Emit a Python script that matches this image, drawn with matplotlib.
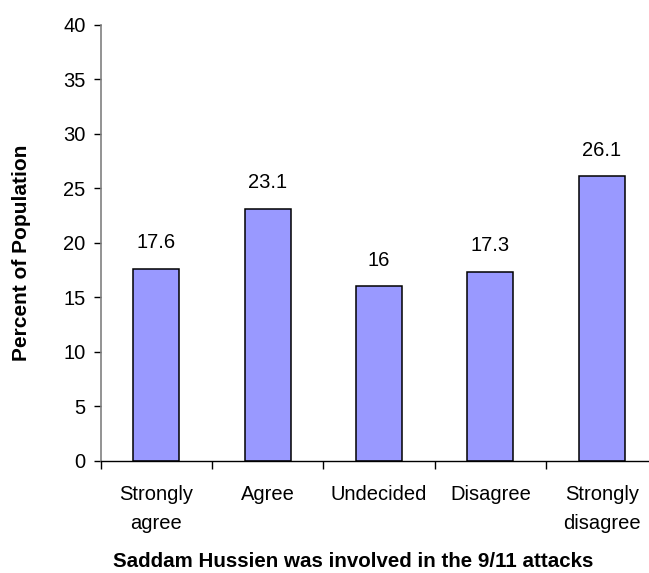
import matplotlib
matplotlib.use("Agg")
import matplotlib.pyplot as plt

categories = ["Strongly\nagree", "Agree", "Undecided", "Disagree", "Strongly\ndisagree"]
percent = [17.6, 23.1, 16, 17.3, 26.1]
y_ticks = [0, 5, 10, 15, 20, 25, 30, 35, 40]

plt.rcParams["font.family"] = ["Liberation Sans", "DejaVu Sans"]

fig = plt.figure(figsize=(6.49, 5.73), dpi=100)
ax = fig.add_axes([0.1552, 0.196, 0.8576, 0.7604])

x = list(range(len(categories)))
ax.bar(x, percent, width=0.415, color="#9999FF", edgecolor="black", linewidth=1.1, zorder=2)

for xi, v in zip(x, percent):
    ax.annotate(f"{v:g}", (xi, v), xytext=(0, 19), textcoords="offset points",
                ha="center", va="center", fontsize=14.5)

ax.set_xlim(-0.5, len(categories) - 0.5)
ax.set_ylim(0, 40)
ax.set_yticks(y_ticks)
ax.set_yticklabels([str(t) for t in y_ticks], fontsize=14.5)
ax.tick_params(axis="y", direction="out", length=5, width=1, color="black", pad=6)

ax.set_xticks(x)
ax.set_xticklabels(categories, fontsize=14.5, linespacing=1.7)
ax.tick_params(axis="x", which="major", length=0, pad=17.5)
ax.set_xticks([i - 0.5 for i in range(len(categories) + 1)], minor=True)
ax.tick_params(axis="x", which="minor", direction="out", length=6, width=1, color="black")

for side in ("top", "right"):
    ax.spines[side].set_visible(False)
ax.spines["left"].set_color("#808080")
ax.spines["left"].set_linewidth(1.2)
ax.spines["bottom"].set_color("black")
ax.spines["bottom"].set_linewidth(1)

fig.text(0.033, 1 - 252.5 / 573, "Percent of Population", rotation=90, ha="center", va="center",
         fontsize=15, fontweight="bold")
fig.text(353 / 649, 1 - 567 / 573, "Saddam Hussien was involved in the 9/11 attacks", ha="center",
         va="baseline", fontsize=14.8, fontweight="bold")

fig.savefig("out.png", dpi=100)
